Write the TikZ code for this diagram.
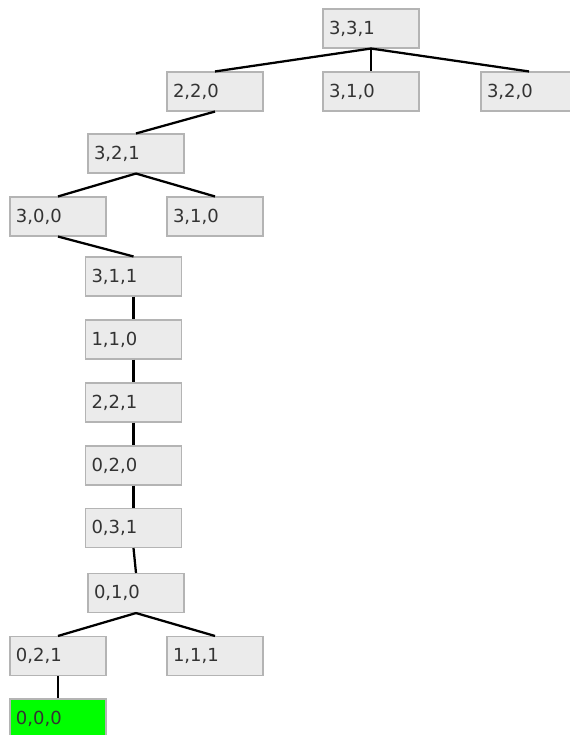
\documentclass[tikz,border=0pt]{standalone}
\usepackage{fontspec}
\setmainfont{DejaVu Sans}
\usetikzlibrary{arrows.meta}

\definecolor{boxfill}{HTML}{EBEBEB}
\definecolor{boxline}{HTML}{B4B4B4}
\definecolor{txtgray}{HTML}{333333}
\definecolor{goalgreen}{HTML}{00FF00}

\begin{document}
\begin{tikzpicture}[x=0.75pt, y=-0.75pt,
  state/.style={draw=boxline, fill=boxfill, line width=0.8pt, text=txtgray,
    minimum width=72pt, minimum height=29.25pt, inner xsep=4.5pt,
    text width=63pt, align=left, font=\fontsize{13.5}{16}\selectfont},
  goal/.style={state, fill=goalgreen},
  link/.style={line width=1.7pt, black}]
\useasboundingbox (0,0) rectangle (569,735); % 그림 크기

% 윗부분
\node[state] (n331) at (371,28.5) {3,3,1};
\node[state] (n220) at (215,91.5) {2,2,0};
\node[state] (n310a) at (371,91.5) {3,1,0};
\node[state] (n320) at (529,91.5) {3,2,0};
\node[state] (n321) at (136,153.5) {3,2,1};
\node[state] (n300) at (58,216.5) {3,0,0};
\node[state] (n310b) at (215,216.5) {3,1,0};

% 가운데 줄기
\node[state] (n311) at (133.5,276.5) {3,1,1};
\node[state] (n110) at (133.5,339.5) {1,1,0};
\node[state] (n221) at (133.5,402.5) {2,2,1};
\node[state] (n020) at (133.5,465.5) {0,2,0};
\node[state] (n031) at (133.5,528) {0,3,1};
\node[state] (n010) at (136,593) {0,1,0};

% 아랫부분
\node[state] (n021) at (58,656) {0,2,1};
\node[state] (n111) at (215,656) {1,1,1};
\node[goal] (n000) at (58,718.5) {0,0,0};

\draw[link] (n331.south) -- (n220.north);
\draw[link] (n331.south) -- (n310a.north);
\draw[link] (n331.south) -- (n320.north);
\draw[link] (n220.south) -- (n321.north);
\draw[link] (n321.south) -- (n300.north);
\draw[link] (n321.south) -- (n310b.north);
\draw[link] (n300.south) -- (n311.north);
\draw[link] (n311.south) -- (n110.north);
\draw[link] (n110.south) -- (n221.north);
\draw[link] (n221.south) -- (n020.north);
\draw[link] (n020.south) -- (n031.north);
\draw[link] (n031.south) -- (n010.north);
\draw[link] (n010.south) -- (n021.north);
\draw[link] (n010.south) -- (n111.north);
\draw[link] (n021.south) -- (n000.north);
\end{tikzpicture}
\end{document}
